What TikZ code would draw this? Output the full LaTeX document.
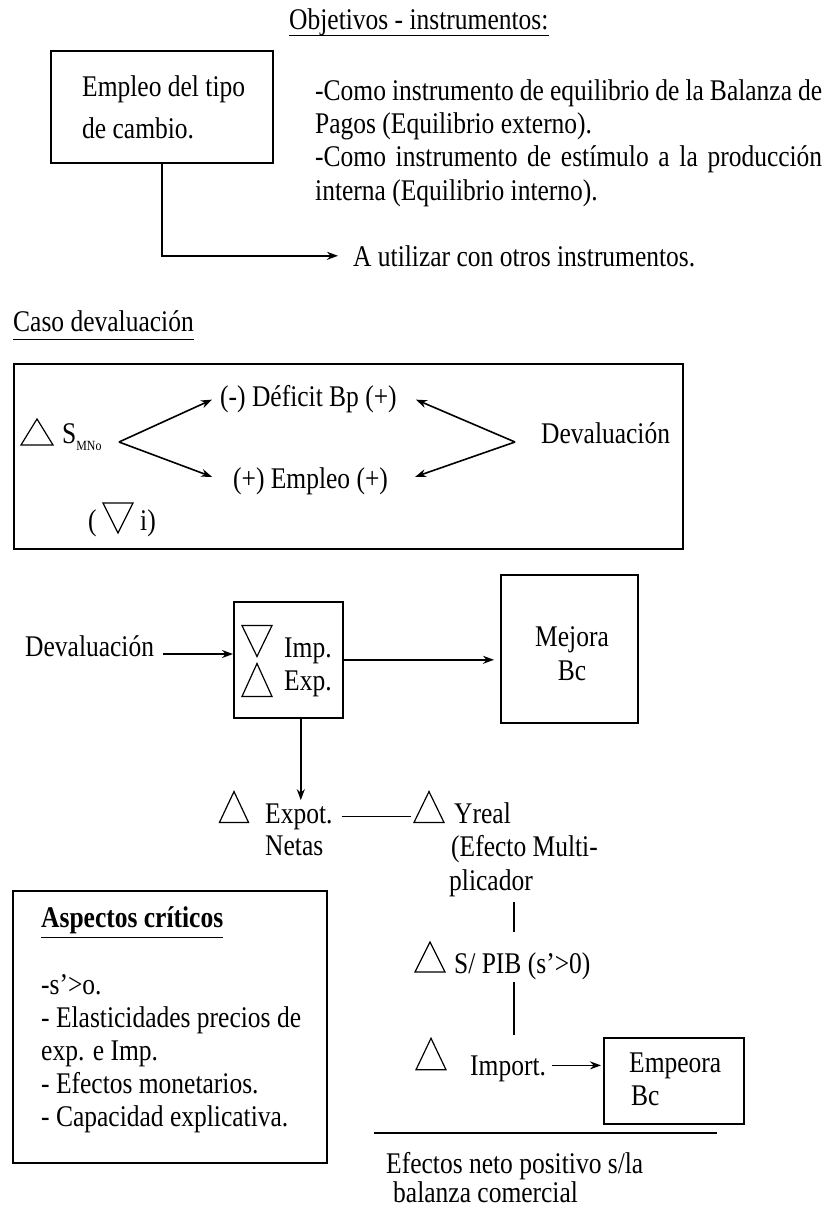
\documentclass[tikz,border=0pt]{standalone}
\usepackage{fontspec}
\setmainfont{Liberation Serif}[FakeStretch=0.85]
\usetikzlibrary{arrows.meta}
\begin{document}
\begin{tikzpicture}[x=1pt,y=-1pt,
  box/.style={draw, line width=1.6pt, inner sep=0, anchor=north west},
  txt/.style={inner sep=0, anchor=base west, font=\fontsize{30}{33}\selectfont},
  ctxt/.style={inner sep=0, anchor=base, font=\fontsize{30}{33}\selectfont},
  conn/.style={line width=1.3pt},
  uline/.style={line width=0.9pt},
  arr/.style={line width=1.6pt, -{Stealth[length=11pt,width=8pt]}},
  tri/.style={line width=1.2pt, line join=miter},
  pics/uptri/.style={code={\draw[tri] (-15,15) -- (15,15) -- (0,-15) -- cycle;}},
  pics/dntri/.style={code={\draw[tri] (-15,-15) -- (15,-15) -- (0,15) -- cycle;}},
]
\useasboundingbox (0,0) rectangle (832,1211);

% ---------- top part ----------
\node[txt] (title) at (289,29) {Objetivos - instrumentos:};
\draw[uline] ([yshift=-6pt]title.base west) -- ([yshift=-6pt]title.base east);

\node[box, minimum width=222pt, minimum height=112pt] (b1) at (50,50) {};
\node[txt] (e1) at (82,96) {Empleo del tipo};
\node[txt] (e2) at (82,138) {de cambio.};

\node[txt] (r1) at (315,100) {\makebox[507pt][s]{-Como instrumento de equilibrio de la Balanza de}};
\node[txt] (r2) at (315,133) {Pagos (Equilibrio externo).};
\node[txt] (r3) at (315,166) {\makebox[507pt][s]{-Como instrumento de estímulo a la producción}};
\node[txt] (r4) at (315,200) {interna (Equilibrio interno).};

\node[txt] (util) at (353,266) {A utilizar con otros instrumentos.};
\draw[arr] (b1.south) |- ([xshift=-15pt]util.west);

% ---------- caso devaluacion ----------
\node[txt] (caso) at (13,331) {Caso devaluación};
\draw[uline] ([yshift=-8pt]caso.base west) -- ([yshift=-8pt]caso.base east);

\node[box, minimum width=669pt, minimum height=185pt] (b2) at (13,363) {};
\pic[xscale=1.07, yscale=0.87] at (37,432) {uptri};
\node[txt] (smno) at (62,443) {S\raisebox{-7pt}{\fontsize{14}{14}\selectfont MNo}};
\node[txt] (def) at (220,406) {(-) Déficit Bp (+)};
\node[txt] (emp) at (233,488) {(+) Empleo (+)};
\node[txt] (dev1) at (541,443) {Devaluación};
\node[txt] (lp) at (88,530) {(};
\pic at (118,518) {dntri};
\node[txt] (ip) at (140,530) {i)};

\coordinate (vl) at (119,442);
\coordinate (vr) at (515,442);
\draw[arr] (vl) -- ([xshift=-8pt,yshift=-1pt]def.west);
\draw[arr] (vl) -- ([xshift=-21pt,yshift=4pt]emp.west);
\draw[arr] (vr) -- ([xshift=19pt,yshift=-1pt]def.east);
\draw[arr] (vr) -- ([xshift=27pt,yshift=4pt]emp.east);

% ---------- middle flow ----------
\node[txt] (dev2) at (25,656) {Devaluación};
\node[box, minimum width=109pt, minimum height=116pt] (b3) at (233,601) {};
\pic[yscale=1.03] at (257,641) {dntri};
\node[txt] (imp) at (284,657) {Imp.};
\pic[yscale=1.1] at (257,680) {uptri};
\node[txt] (exp) at (284,690) {Exp.};
\node[box, minimum width=137pt, minimum height=148pt] (b4) at (500,574) {};
\node[ctxt] (mej) at (572,646) {Mejora};
\node[ctxt] (bc1) at (572,680) {Bc};

\draw[arr] ([xshift=9pt,yshift=2pt]dev2.base east) -- ([yshift=2pt]dev2.base east -| b3.west);
\draw[arr, shorten >=6pt] (b3.east) -- (b3.east -| b4.west);

\pic[xscale=0.97, yscale=1.03] at (234,807) {uptri};
\node[txt] (expot) at (265,823) {Expot.};
\node[txt] (netas) at (265,855) {Netas};
\draw[arr] ([xshift=12.5pt]b3.south) -- ([xshift=12.5pt,yshift=3pt]b3.south |- expot.north);

\pic[yscale=1.03] at (429,807) {uptri};
\node[txt] (yreal) at (454,823) {Yreal};
\node[txt] (efm) at (451,856) {(Efecto Multi-};
\node[txt] (plic) at (449,890) {plicador};
\draw[conn] ([xshift=9pt]expot.east) -- ([xshift=-43pt]yreal.west |- expot.east);

% ---------- lower right chain ----------
\coordinate (l1a) at (514,902);
\coordinate (l1b) at (514,932);
\draw[conn] (l1a) -- (l1b);
\pic at (430,957) {uptri};
\node[txt] (spib) at (454,973) {S/ PIB (s'>0)};
\coordinate (l2a) at (514,982);
\coordinate (l2b) at (514,1035);
\draw[conn] (l2a) -- (l2b);
\pic[yscale=1.05] at (431,1054) {uptri};
\node[txt] (import) at (470,1075) {Import.};
\node[box, minimum width=140pt, minimum height=86pt] (b6) at (603,1037) {};
\node[txt] (empe) at (629,1072) {Empeora};
\node[txt] (bc2) at (631,1105) {Bc};
\draw[arr, shorten >=2pt] ([xshift=6pt,yshift=3pt]import.east) -- ([yshift=3pt]import.east -| b6.west);

\coordinate (hl1) at (374,1133);
\coordinate (hl2) at (717,1133);
\draw[line width=1.4pt] (hl1) -- (hl2);
\node[txt] (ef1) at (386,1173) {Efectos neto positivo s/la};
\node[txt] (ef2) at (393,1202) {balanza comercial};

% ---------- aspectos criticos ----------
\node[box, minimum width=314pt, minimum height=272pt] (b5) at (12,890) {};
\node[txt, font=\fontsize{30}{33}\selectfont\bfseries] (asp) at (41,927) {Aspectos críticos};
\draw[uline] ([yshift=-10pt]asp.base west) -- ([yshift=-10pt]asp.base east);
\node[txt] (s1) at (41,994) {-s'>o.};
\node[txt] (s2) at (41,1027) {- Elasticidades precios de};
\node[txt] (s3) at (41,1060) {exp. e Imp.};
\node[txt] (s4) at (41,1093) {- Efectos monetarios.};
\node[txt] (s5) at (41,1126) {- Capacidad explicativa.};
\end{tikzpicture}
\end{document}
